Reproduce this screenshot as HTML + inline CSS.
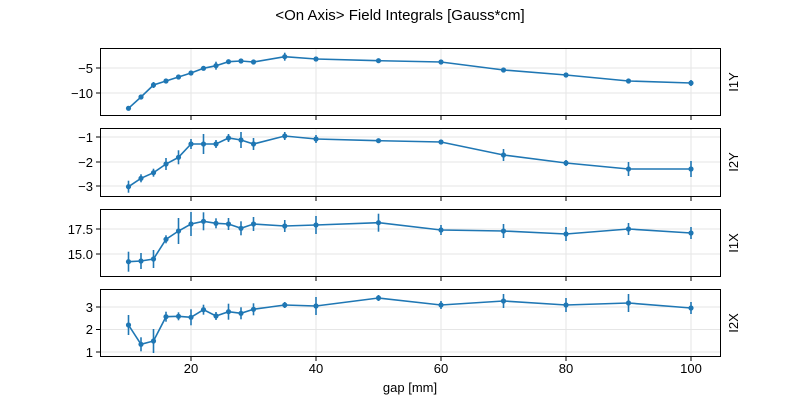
<!DOCTYPE html>
<html><head><meta charset="utf-8"><style>
html,body{margin:0;padding:0;background:#fff}
svg text{font-family:"Liberation Sans","DejaVu Sans",sans-serif;font-size:13px;fill:#000}
</style></head><body>
<svg id="s" width="800" height="400" viewBox="0 0 800 400" xmlns="http://www.w3.org/2000/svg">
<rect width="800" height="400" fill="#fff"/>
<text x="400" y="20" text-anchor="middle" font-size="15" style="font-size:15px">&lt;On Axis&gt; Field Integrals [Gauss*cm]</text>
<g id="grid" stroke="#e6e6e6" stroke-width="1"></g>
<g id="data"></g>
<g fill="none" stroke="#000" stroke-width="1">
<rect x="100.5" y="48.5" width="620" height="67"/>
<rect x="100.5" y="128.5" width="620" height="68"/>
<rect x="100.5" y="209.5" width="620" height="67"/>
<rect x="100.5" y="289.5" width="620" height="67"/>
</g>
<g id="ticks" stroke="#000" stroke-width="1"></g>
<g text-anchor="end">
<text x="93" y="73">−5</text><text x="93" y="98">−10</text>
<text x="93" y="142">−1</text><text x="93" y="167">−2</text><text x="93" y="191">−3</text>
<text x="93" y="234">17.5</text><text x="93" y="259">15.0</text>
<text x="93" y="312">3</text><text x="93" y="334">2</text><text x="93" y="357">1</text>
</g>
<g text-anchor="middle">
<text x="191" y="373">20</text><text x="316" y="373">40</text><text x="441" y="373">60</text><text x="566" y="373">80</text><text x="691" y="373">100</text>
<text x="410" y="392">gap [mm]</text>
</g>
<text transform="translate(738,82) rotate(-90)" text-anchor="middle">I1Y</text>
<text transform="translate(738,162) rotate(-90)" text-anchor="middle">I2Y</text>
<text transform="translate(738,243) rotate(-90)" text-anchor="middle">I1X</text>
<text transform="translate(738,323) rotate(-90)" text-anchor="middle">I2X</text>
</svg>
<script>
var NS="http://www.w3.org/2000/svg";
var xs=[10,12,14,16,18,20,22,24,26,28,30,35,40,50,60,70,80,90,100].map(function(v){return 66+6.25*v;});
var panels=[
 {t:48,b:116,yt:[68,93],y:[108.3,97,85,81,77,73,68.3,65.7,61.7,61,62,56.7,59,60.7,62,70,75,81,83],e:[2,2,3,2,1,1,2,4,2,1,2,4,1,1,1,1,2,1,3]},
 {t:128,b:197,yt:[137,162,186],y:[186.7,178.3,172.7,164,157.3,144,144,144,138,140,144,136,139,140.7,142,155,163,169,169],e:[6,4,4,6,7,5,10,4,4,8,6,4,4,2,2,6,3,7,8]},
 {t:209,b:277,yt:[229,254],y:[261.7,261,259,239.3,231,224,221.3,223.3,224,228.3,224,226,225,222.7,230,231,234,229,233],e:[10,8,9,4,13,12,9,5,6,7,7,6,9,9,5,7,7,6,6]},
 {t:289,b:357,yt:[307,329.5,352],y:[325,344.3,341,316.7,316.3,317.3,309.7,316,311.7,313.3,309.3,305,306,298,305,301,305,303,308],e:[10,7,12,5,4,8,5,4,8,6,6,3,9,3,4,7,7,9,6]}
];
function el(n,a,p){var e=document.createElementNS(NS,n);for(var k in a)e.setAttribute(k,a[k]);p.appendChild(e);return e;}
var g=document.getElementById("grid"),d=document.getElementById("data"),tk=document.getElementById("ticks");
var xt=[191,316,441,566,691];
panels.forEach(function(p){
 xt.forEach(function(x){el("line",{x1:x,x2:x,y1:p.t,y2:p.b},g);el("line",{x1:x,x2:x,y1:p.b,y2:p.b+4},tk);});
 p.yt.forEach(function(y){el("line",{x1:100,x2:720,y1:y,y2:y},g);el("line",{x1:96,x2:100,y1:y,y2:y},tk);});
 var pts=xs.map(function(x,i){return x+","+p.y[i];}).join(" ");
 el("polyline",{points:pts,fill:"none",stroke:"#1f77b4","stroke-width":1.6},d);
 xs.forEach(function(x,i){
  el("line",{x1:x,x2:x,y1:p.y[i]-p.e[i],y2:p.y[i]+p.e[i],stroke:"#1f77b4","stroke-width":1.6},d);
  el("circle",{cx:x,cy:p.y[i],r:2.6,fill:"#1f77b4"},d);
 });
});
</script>
</body></html>
